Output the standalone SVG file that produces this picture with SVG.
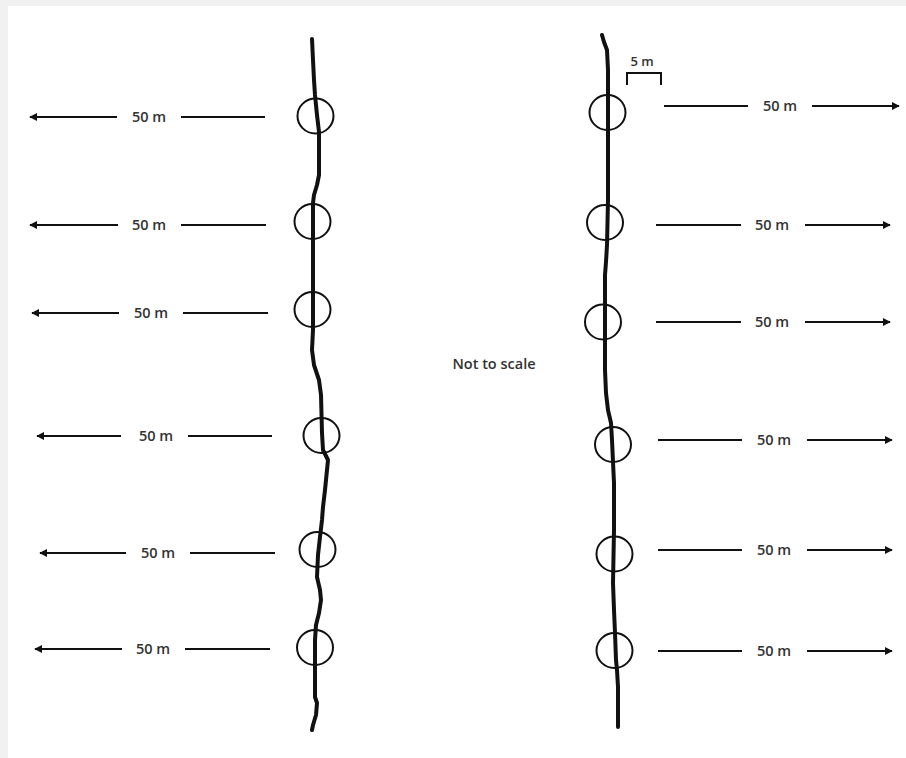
<svg xmlns="http://www.w3.org/2000/svg" width="906" height="758" viewBox="0 0 906 758">
<defs>
<style>
.rope{fill:none;stroke:#111;stroke-width:4;stroke-linejoin:round;stroke-linecap:round}
.plot{fill:none;stroke:#111;stroke-width:2}
.ln{fill:none;stroke:#111;stroke-width:2}
.lbl{font-family:"Open Sans","Liberation Sans",sans-serif;font-size:14.5px;font-weight:600;fill:#333;text-anchor:middle;dominant-baseline:central}
</style>
<marker id="ah" viewBox="0 0 10 10" refX="9" refY="5" markerWidth="4" markerHeight="4" orient="auto-start-reverse" markerUnits="strokeWidth">
<path d="M0,0 L10,5 L0,10 z" fill="#111"/>
</marker>
</defs>
<rect width="906" height="758" fill="#f1f1f1"/>
<rect x="8" y="6" width="898" height="752" fill="#ffffff"/>

<g id="rope-left">
<path class="rope" d="M312,39 L313,60 L314,80 L315,95 L317,115 L319,132 L319,150 L319,175 L317,185 L314,195 L313,203 L313,240 L313,290 L313,330 L312,350 L314,365 L319,380 L321,395 L322,433 L323,450 L328,460 L327,470 L325,490 L323,507 L322,520 L320,537 L318,555 L317,577 L320,590 L321,600 L319,613 L316,625 L315,640 L315,660 L315,697 L317,703 L316,715 L313,725 L312,730"/>
</g>
<g id="rope-right">
<path class="rope" d="M602,35 L604,42 L607,50 L608,70 L608,97 L608,130 L608,200 L607,245 L606,262 L605,275 L605,300 L605,340 L605,370 L606,393 L608,410 L611,423 L612,440 L613,462 L614,483 L614,530 L613,583 L614,610 L615,633 L616,660 L617,670 L618,687 L618,727"/>
</g>

<g id="plots-left">
<ellipse class="plot" cx="315.5" cy="116" rx="18" ry="17.5"/>
<ellipse class="plot" cx="312.5" cy="221.5" rx="18" ry="17.5"/>
<ellipse class="plot" cx="312.5" cy="309.5" rx="18" ry="17.5"/>
<ellipse class="plot" cx="321.5" cy="435.5" rx="18" ry="17.5"/>
<ellipse class="plot" cx="317.5" cy="549.5" rx="18" ry="17.5"/>
<ellipse class="plot" cx="315" cy="647.5" rx="18" ry="17.5"/>
</g>
<g id="plots-right">
<ellipse class="plot" cx="607.5" cy="112.5" rx="18" ry="17.5"/>
<ellipse class="plot" cx="605" cy="222.5" rx="18" ry="17.5"/>
<ellipse class="plot" cx="603" cy="322" rx="18" ry="17.5"/>
<ellipse class="plot" cx="613" cy="444.5" rx="18" ry="17.5"/>
<ellipse class="plot" cx="614.5" cy="554" rx="18" ry="17.5"/>
<ellipse class="plot" cx="614.5" cy="650.5" rx="18" ry="17.5"/>
</g>

<g id="scale-bar">
<path class="ln" d="M627,85 L627,73 L661,73 L661,85"/>
<text class="lbl" x="642" y="61" style="font-size:13px">5 m</text>
</g>

<g id="connectors">
<line class="ln" x1="117" y1="117" x2="30" y2="117" marker-end="url(#ah)"/>
<line class="ln" x1="181" y1="117" x2="265" y2="117"/>
<line class="ln" x1="118" y1="225" x2="30" y2="225" marker-end="url(#ah)"/>
<line class="ln" x1="181" y1="225" x2="266" y2="225"/>
<line class="ln" x1="119" y1="313" x2="32" y2="313" marker-end="url(#ah)"/>
<line class="ln" x1="183" y1="313" x2="268" y2="313"/>
<line class="ln" x1="121" y1="436" x2="37" y2="436" marker-end="url(#ah)"/>
<line class="ln" x1="188" y1="436" x2="272" y2="436"/>
<line class="ln" x1="126" y1="553" x2="40" y2="553" marker-end="url(#ah)"/>
<line class="ln" x1="190" y1="553" x2="275" y2="553"/>
<line class="ln" x1="122" y1="649" x2="35" y2="649" marker-end="url(#ah)"/>
<line class="ln" x1="185" y1="649" x2="270" y2="649"/>

<line class="ln" x1="664" y1="106" x2="748" y2="106"/>
<line class="ln" x1="812" y1="106" x2="899" y2="106" marker-end="url(#ah)"/>
<line class="ln" x1="656" y1="225" x2="741" y2="225"/>
<line class="ln" x1="805" y1="225" x2="890" y2="225" marker-end="url(#ah)"/>
<line class="ln" x1="656" y1="322" x2="741" y2="322"/>
<line class="ln" x1="805" y1="322" x2="890" y2="322" marker-end="url(#ah)"/>
<line class="ln" x1="658" y1="440" x2="742" y2="440"/>
<line class="ln" x1="807" y1="440" x2="892" y2="440" marker-end="url(#ah)"/>
<line class="ln" x1="658" y1="550" x2="742" y2="550"/>
<line class="ln" x1="807" y1="550" x2="892" y2="550" marker-end="url(#ah)"/>
<line class="ln" x1="658" y1="651" x2="742" y2="651"/>
<line class="ln" x1="807" y1="651" x2="892" y2="651" marker-end="url(#ah)"/>
</g>

<g id="labels">
<text class="lbl" x="149" y="116">50 m</text>
<text class="lbl" x="149" y="224">50 m</text>
<text class="lbl" x="151" y="312">50 m</text>
<text class="lbl" x="156" y="435">50 m</text>
<text class="lbl" x="158" y="552">50 m</text>
<text class="lbl" x="153" y="648">50 m</text>
<text class="lbl" x="780" y="105">50 m</text>
<text class="lbl" x="772" y="224">50 m</text>
<text class="lbl" x="772" y="321">50 m</text>
<text class="lbl" x="774" y="439">50 m</text>
<text class="lbl" x="774" y="549">50 m</text>
<text class="lbl" x="774" y="650">50 m</text>
<text class="lbl" x="494" y="363">Not to scale</text>
</g>
</svg>
